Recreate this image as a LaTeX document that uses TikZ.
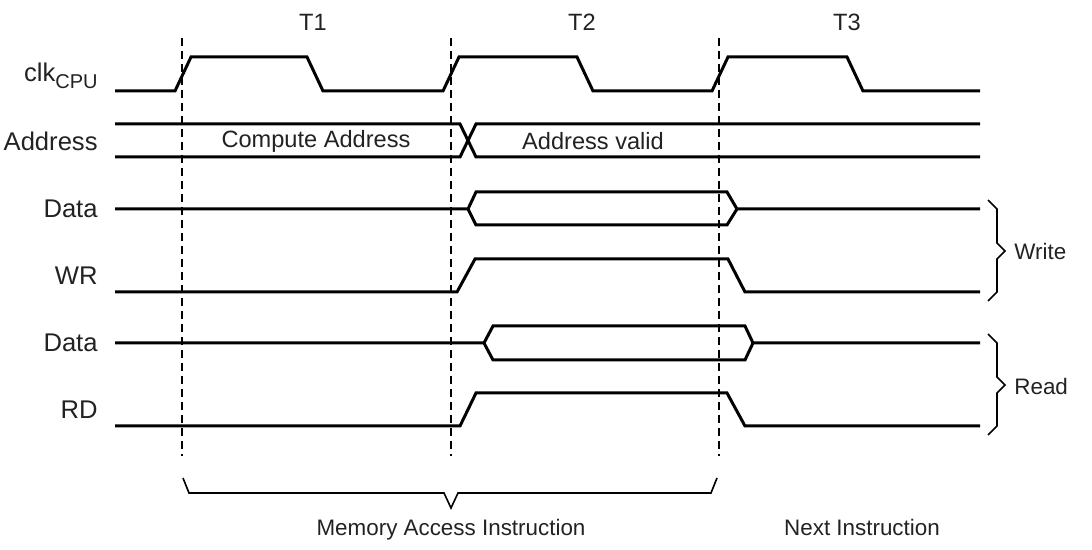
\documentclass[tikz,border=0pt]{standalone}
\usepackage{fontspec}
\setmainfont{Liberation Sans}
\definecolor{tcol}{HTML}{222222}

\begin{document}
\begin{tikzpicture}[x=0.5pt,y=-0.5pt,
  sig/.style={line width=1.5pt,line join=miter},
  tick/.style={line width=0.9pt,dash pattern=on 4pt off 2.5pt},
  grp/.style={line width=0.8pt},
  lbl/.style={font=\fontsize{11.8}{14}\selectfont,text=tcol,inner sep=0pt},
  signame/.style={lbl,font=\fontsize{12.8}{15}\selectfont,anchor=east},
  grpnote/.style={lbl,font=\fontsize{11.2}{13}\selectfont}]
\useasboundingbox (0,0) rectangle (1092,550);
% period boundaries
\foreach \x in {182,451,719} \draw[tick] (\x,38) -- (\x,456);
% period names
\node[lbl] (t1) at (313,22) {T1};
\node[lbl] (t2) at (582,22) {T2};
\node[lbl] (t3) at (847,22) {T3};
% signal names
\node[signame] (clk)  at (98,76)  {clk\raisebox{-0.5ex}{\fontsize{10}{11}\selectfont CPU}};
\node[signame] (adr)  at (98,141) {Address};
\node[signame] (dw)   at (98,209) {Data};
\node[signame] (wr)   at (98,276) {WR};
\node[signame] (dr)   at (98,343) {Data};
\node[signame] (rd)   at (98,410) {RD};
% clock
\draw[sig] (115,91) -- (175,91) -- (191,57) -- (307,57) -- (323,91) -- (443,91) -- (459,57)
  -- (577,57) -- (593,91) -- (712,91) -- (728,57) -- (847,57) -- (863,91) -- (980,91);
% address bus
\draw[sig] (115,124) -- (460,124) -- (476,157) -- (980,157);
\draw[sig] (115,157) -- (460,157) -- (476,124) -- (980,124);
\node[lbl] (cadr) at (316,141) {Compute Address};
\node[lbl] (vadr) at (593,141) {Address valid};
% write cycle
\draw[sig] (115,209) -- (468,209) -- (476,192) -- (727,192) -- (737,209) -- (980,209);
\draw[sig] (468,209) -- (476,225) -- (727,225) -- (737,209);
\draw[sig] (115,292) -- (457,292) -- (475,259) -- (728,259) -- (745,292) -- (980,292);
% read cycle
\draw[sig] (115,343) -- (484,343) -- (493,326) -- (745,326) -- (753,343) -- (980,343);
\draw[sig] (484,343) -- (493,360) -- (745,360) -- (753,343);
\draw[sig] (115,426) -- (460,426) -- (476,393) -- (727,393) -- (745,426) -- (980,426);
% groups
\draw[grp] (988,200) -- (997,209) -- (997,243) -- (1005,251) -- (997,259) -- (997,292) -- (988,301);
\node[grpnote,anchor=west] (wgrp) at (1014,251) {Write};
\draw[grp] (988,334) -- (997,343) -- (997,377) -- (1005,385) -- (997,393) -- (997,426) -- (988,435);
\node[grpnote,anchor=west] (rgrp) at (1014,386) {Read};
% instructions
\draw[grp] (183,478) -- (189,493) -- (444,493) -- (451,508) -- (458,493) -- (711,493) -- (717,478);
\node[grpnote,anchor=base] (mem) at (451,535) {Memory Access Instruction};
\node[grpnote,anchor=base] (nxt) at (862,535) {Next Instruction};
\end{tikzpicture}
\end{document}
